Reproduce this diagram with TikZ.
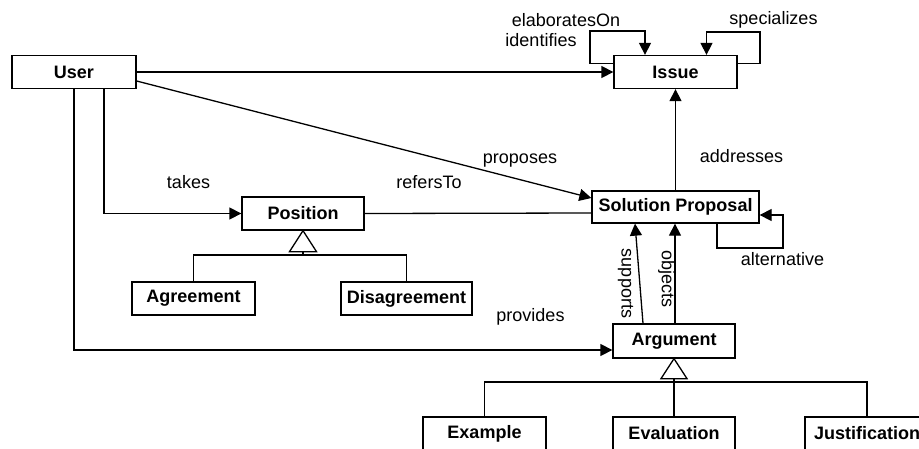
\documentclass[tikz,border=0pt]{standalone}
\usepackage{fontspec}
\setmainfont{Liberation Sans}
\usetikzlibrary{arrows.meta}
\tikzset{
  cls/.style={draw, line width=1.3pt, fill=white, minimum height=33pt, inner sep=0pt,
              font=\fontsize{18pt}{21pt}\selectfont\bfseries},
  lbl/.style={inner sep=0pt, font=\fontsize{18pt}{21pt}\selectfont},
  conn/.style={line width=1.3pt},
  arr/.style={conn, -{Triangle[length=12pt,width=12pt]}},
  gen/.style={line width=1.3pt, fill=white}
}
\begin{document}
\begin{tikzpicture}[x=1pt,y=-1pt]
\clip (0,0) rectangle (919,448);
\fill[white] (0,0) rectangle (919,448);
% classes
\node[cls, minimum width=124pt] (User) at (74,72) {User};
\node[cls, minimum width=123pt] (Issue) at (675.5,72) {Issue};
\node[cls, minimum width=122pt] (Position) at (303,213.5) {Position};
\node[cls, minimum width=167pt, minimum height=32pt] (SP) at (675.5,207) {Solution Proposal};
\node[cls, minimum width=123pt] (Agree) at (193.5,298.5) {Agreement};
\node[cls, minimum width=131pt] (Disagree) at (406.5,298.5) {Disagreement};
\node[cls, minimum width=122pt, minimum height=34pt] (Arg) at (674,341) {Argument};
\node[cls, minimum width=123pt] (Example) at (484.5,433.5) {Example};
\node[cls, minimum width=122pt] (Eval) at (674,433.5) {Evaluation};
\node[cls, minimum width=124pt] (Just) at (867,433.5) {Justification};
% helper coordinates
\coordinate (lpL) at (590,31);
\coordinate (lpR) at (760,32);
\coordinate (altc) at (783,248);
% User -> Issue
\draw[arr] (User.east) -- (Issue.west);
% proposes
\draw[arr] ([yshift=-9pt]User.east) -- ([yshift=9pt]SP.west);
% takes
\draw[arr] ([xshift=30pt]User.south) |- (Position.west);
% provides
\draw[arr] (User.south) |- ([yshift=-9pt]Arg.west);
% refersTo
\draw[conn] (Position.east) -- ([yshift=-6pt]SP.west);
% addresses
\draw[arr] (SP.north) -- (Issue.south);
% Issue self loops
\draw[arr] ([yshift=8.5pt]Issue.west) -| (lpL) -| ([xshift=-30.5pt]Issue.north);
\draw[arr] ([yshift=8.5pt]Issue.east) -| (lpR) -| ([xshift=31pt]Issue.north);
% alternative
\draw[arr] ([xshift=41.5pt]SP.south) |- (altc) |- ([yshift=-8pt]SP.east);
% supports, objects
\draw[arr] ([xshift=-31pt]Arg.north) -- ([xshift=-40.5pt]SP.south);
\draw[arr] ([xshift=1pt]Arg.north) -- ([xshift=1pt]Arg.north |- SP.south);
% generalization Position
\draw[gen] (Position.south) -- ++(-13.5,21) -- ++(27,0) -- cycle;
\coordinate (pbar) at (303,255);
\draw[conn] ([yshift=-21pt]Position.south) -- (pbar);
\draw[conn] (Agree.north) |- (pbar) -| (Disagree.north);
% generalization Argument
\draw[gen] (Arg.south) -- ++(-13,20) -- ++(26,0) -- cycle;
\coordinate (abar) at (674,382);
\draw[conn] ([yshift=-20pt]Arg.south) -- (Eval.north);
\draw[conn] (Example.north) |- (abar) -| (Just.north);
% labels
\node[lbl] (l1) at (566,20) {elaboratesOn};
\node[lbl] (l2) at (541,40) {identifies};
\node[lbl] (l3) at (773.5,20) {specializes};
\node[lbl] (l4) at (188.5,182) {takes};
\node[lbl] (l5) at (429,182) {refersTo};
\node[lbl] (l6) at (520,161) {proposes};
\node[lbl] (l7) at (741.5,156) {addresses};
\node[lbl] (l8) at (782.5,259) {alternative};
\node[lbl] (l9) at (530.5,317) {provides};
\node[lbl, rotate=-90] (l10) at (625.5,283.5) {supports};
\node[lbl, rotate=-90] (l11) at (666.5,279) {objects};
\end{tikzpicture}
\end{document}
